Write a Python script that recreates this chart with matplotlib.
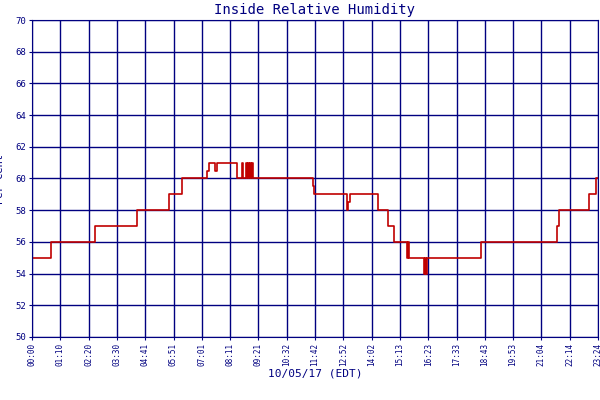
import matplotlib
matplotlib.use("Agg")
import matplotlib.pyplot as plt

# times in minutes since 00:00, values in per cent (steps-post)
times = [0, 47, 157, 260, 340, 372, 434, 438, 455, 458, 509,
         520, 523, 530, 533, 536, 539, 541, 544, 546, 548, 697, 700,
         781, 784, 788, 858, 883, 898, 930, 932, 935, 972, 975, 977, 980, 1114,
         1302, 1308, 1382, 1399, 1404]
values = [55, 56, 57, 58, 59, 60, 60.5, 61, 60.5, 61, 60,
          61, 60, 61, 60, 61, 60, 61, 60, 61, 60, 59.5, 59,
          58, 58.5, 59, 58, 57, 56, 55, 56, 55, 54, 55, 54, 55, 56,
          57, 58, 59, 60, 60]
tick_labels = ["00:00", "01:10", "02:20", "03:30", "04:41", "05:51", "07:01", "08:11",
               "09:21", "10:32", "11:42", "12:52", "14:02", "15:13", "16:23", "17:33",
               "18:43", "19:53", "21:04", "22:14", "23:24"]
y_ticks = [50, 52, 54, 56, 58, 60, 62, 64, 66, 68, 70]

navy = "#000080"
mono = "DejaVu Sans Mono"
fig = plt.figure(figsize=(6, 4), dpi=100)
ax = fig.add_axes([32/600, 63/400, 566/600, 317/400])
ax.step(times, values, where="post", color="#c00000", lw=1.2, label="Relative Humidity")
span = 1404
ax.set_xlim(0, span)
ax.set_ylim(50, 70)
xt = [i * span / 20 for i in range(21)]
ax.set_xticks(xt)
ax.set_xticklabels(tick_labels, rotation=90, fontsize=5.5, family=mono, color=navy)
ax.set_yticks(y_ticks)
ax.set_yticklabels([str(v) for v in y_ticks], fontsize=6.5, family=mono, color=navy)
ax.grid(True, color=navy, lw=1)
ax.set_axisbelow(True)
for s in ax.spines.values():
    s.set_color(navy)
ax.tick_params(colors=navy, length=2, pad=2)
ax.set_title("Inside Relative Humidity", fontsize=10, family=mono, color=navy, pad=4)
ax.set_ylabel("Per Cent", fontsize=7.5, family=mono, color=navy)
ax.yaxis.set_label_coords(-0.047, 0.5)
ax.set_xlabel("10/05/17 (EDT)", fontsize=8, family=mono, color=navy, labelpad=2)
leg = ax.legend(loc="upper center", bbox_to_anchor=(0.47, -0.225), frameon=False,
                prop={"family": mono, "size": 6}, handlelength=1.5, handletextpad=0.3,
                borderpad=0.1)
for t in leg.get_texts():
    t.set_color(navy)
fig.savefig("out.png", dpi=100)
